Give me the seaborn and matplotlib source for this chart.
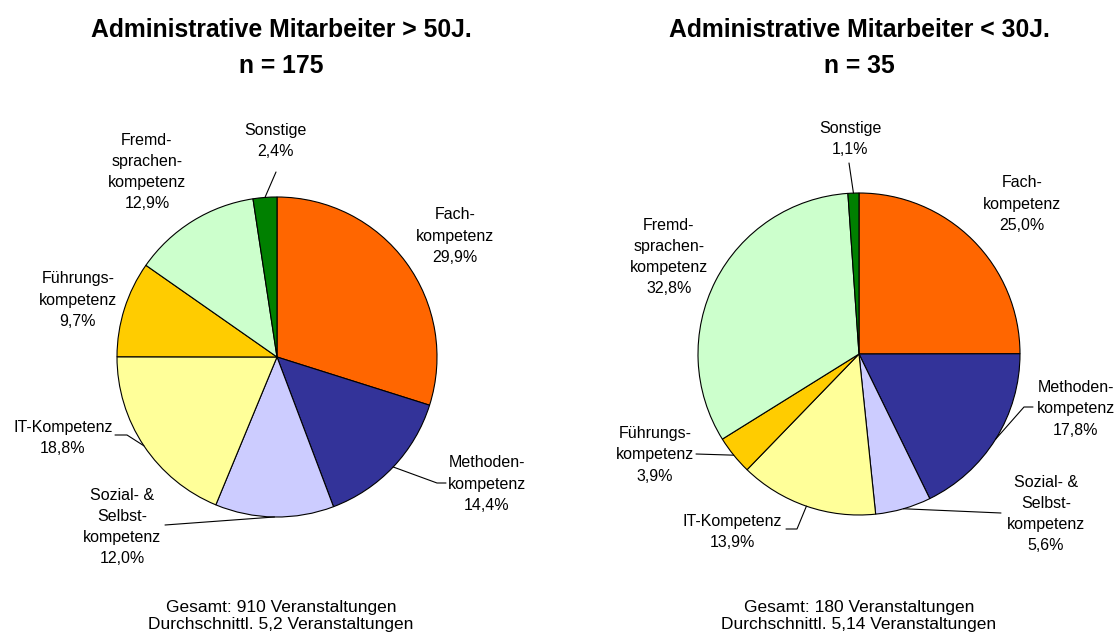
import matplotlib
matplotlib.use("Agg")
import matplotlib.pyplot as plt
import numpy as np
import seaborn as sns

# Competence areas, clockwise from 12 o'clock
categories = [
    "Fach-\nkompetenz",
    "Methoden-\nkompetenz",
    "Sozial- &\nSelbst-\nkompetenz",
    "IT-Kompetenz",
    "Führungs-\nkompetenz",
    "Fremd-\nsprachen-\nkompetenz",
    "Sonstige",
]
shares_over50 = [29.9, 14.4, 12.0, 18.8, 9.7, 12.9, 2.4]
shares_under30 = [25.0, 17.8, 5.6, 13.9, 3.9, 32.8, 1.1]

titles = ["Administrative Mitarbeiter > 50J.", "Administrative Mitarbeiter < 30J."]
sample_sizes = [175, 35]
events_total = [910, 180]
events_avg = ["5,2", "5,14"]

colors = ["#FF6600", "#333399", "#CCCCFF", "#FFFF99", "#FFCC00", "#CCFFCC", "#008000"]

sns.set_theme(style="white", rc={"text.color": "black"})
plt.rcParams["font.family"] = ["Liberation Sans", "DejaVu Sans"]

W, H = 1116, 635
fig = plt.figure(figsize=(W / 100, H / 100), dpi=100)
ax = fig.add_axes([0, 0, 1, 1])

# Per-pie layout in pixel coordinates: centre, radius, label anchors, leader bends
layouts = [
    dict(
        center=(277, 357), radius=160, title_x=281,
        labels=[(455, 236), (487, 484), (122, 527), (63, 438), (78, 300), (147, 172), (275, 141)],
        leaders={0: None, 1: [(446, 483), (437, 483)], 2: [(165, 525)], 3: [(115, 435), (127, 435)],
                 4: None, 5: None, 6: [(276, 172)]},
    ),
    dict(
        center=(859, 354), radius=161, title_x=859,
        labels=[(1022, 204), (1076, 409), (1046, 514), (732, 532), (655, 455), (669, 257), (850, 139)],
        leaders={0: None, 1: [(1033, 407), (1024, 407)], 2: [(1001, 513)], 3: [(786, 529), (797, 529)],
                 4: [(696, 454)], 5: None, 6: [(849, 163)]},
    ),
]

palette = sns.color_palette(colors)

for shares, lay, title, n, tot, avg in zip(
    [shares_over50, shares_under30], layouts, titles, sample_sizes, events_total, events_avg
):
    cx, cy = lay["center"]
    r = lay["radius"]
    # y axis runs downward, so counterclockwise in data space is clockwise on screen
    ax.pie(
        shares, colors=palette, startangle=-90, counterclock=True,
        center=(cx, cy), radius=r, frame=True,
        wedgeprops=dict(edgecolor="black", linewidth=0.8),
    )
    total = sum(shares)
    cum = np.cumsum([0] + shares)
    for i, (cat, val) in enumerate(zip(categories, shares)):
        pct = f"{val:.1f}".replace(".", ",") + "%"
        lx, ly = lay["labels"][i]
        ax.text(lx, ly, f"{cat}\n{pct}", ha="center", va="center", multialignment="center",
                fontsize=11.5, linespacing=1.52, color="black")
        bends = lay["leaders"][i]
        if bends:
            theta = np.deg2rad(-90 + 360 * (cum[i] + val / 2) / total)
            px, py = cx + r * np.cos(theta), cy + r * np.sin(theta)
            xs = [b[0] for b in bends] + [px]
            ys = [b[1] for b in bends] + [py]
            ax.plot(xs, ys, color="black", linewidth=0.8)

    tx = lay["title_x"]
    ax.text(tx, 37, title, ha="center", va="baseline", fontsize=17.8, fontweight="bold", color="black")
    ax.text(tx, 73, f"n = {n}", ha="center", va="baseline", fontsize=17.8, fontweight="bold", color="black")
    ax.text(tx, 616, f"Gesamt: {tot} Veranstaltungen\nDurchschnittl. {avg} Veranstaltungen",
            ha="center", va="center", multialignment="center", fontsize=12.5, linespacing=1.1,
            color="black")

ax.set_xlim(0, W)
ax.set_ylim(H, 0)
ax.set_aspect("auto")
ax.axis("off")

fig.savefig("out.png", dpi=100, facecolor="white")
